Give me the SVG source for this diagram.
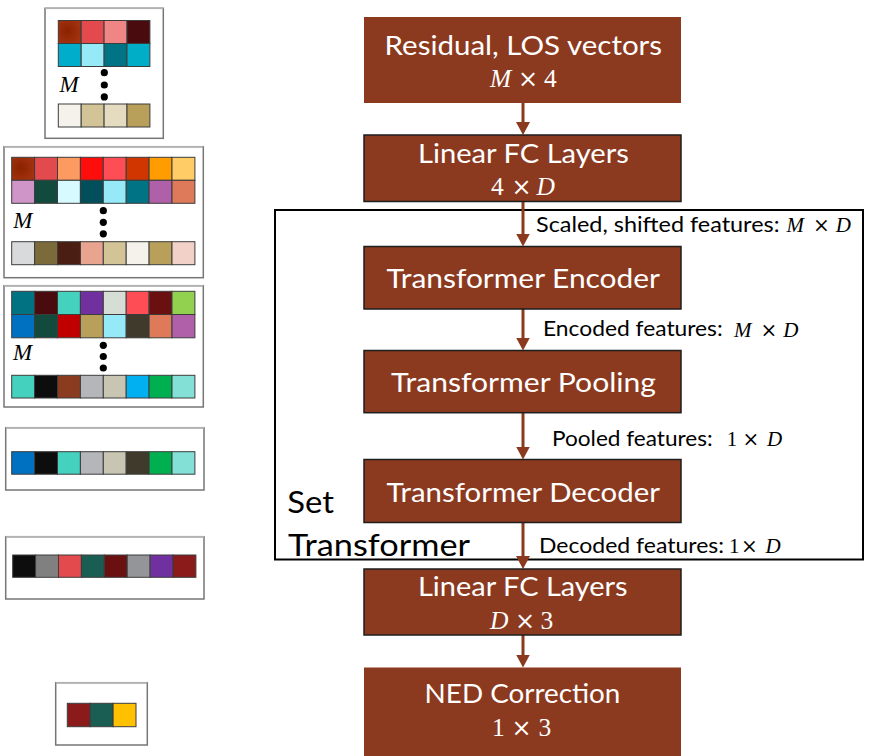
<svg xmlns="http://www.w3.org/2000/svg" width="871" height="756" viewBox="0 0 871 756">
<style>
.bx{fill:#8B3A1F}
.bd{stroke:#1e1e1e;stroke-width:1.5}
.t{font-family:Lato,"Liberation Sans",sans-serif;fill:#fff;font-size:26.5px}
.lb{font-family:Lato,"Liberation Sans",sans-serif;fill:#000;font-size:21.5px}
.mw{font-family:"Liberation Serif",serif;fill:#fff;font-size:25.5px}
.mk{font-family:"Liberation Serif",serif;fill:#000;font-size:21px}
.mx{font-family:"DejaVu Serif",serif;text-anchor:middle}
.mw .mx{font-size:24px}
.mk .mx{font-size:20px}
.it{font-style:italic}
.pn{fill:#fff;stroke:#767676;stroke-width:1.5}
.pt{stroke:#b3b3b3;stroke-width:1.5}
.c rect{stroke:#3c3c3c;stroke-width:1}
.cn{stroke:#8B3A1F;stroke-width:3;fill:none}
</style>
<defs>
<marker id="ah" viewBox="0 0 13 14" refX="3" refY="7" markerWidth="13" markerHeight="14" markerUnits="userSpaceOnUse" orient="auto">
<path d="M0,0 L13,7 L0,14 z" fill="#8B3A1F"/>
</marker>
<radialGradient id="rg" cx="0.4" cy="0.45" r="0.6">
<stop offset="0" stop-color="#8a2200"/>
<stop offset="1" stop-color="#a3320f"/>
</radialGradient>
</defs>
<rect width="871" height="756" fill="#fff"/>

<!-- left panels -->
<g id="panel1">
<rect class="pn" x="45" y="8.3" width="118.3" height="130"/>
<line class="pt" x1="45" y1="8.3" x2="163.3" y2="8.3"/>
<g class="c">
<rect x="58.3" y="20.5" width="22.9" height="23" fill="url(#rg)"/>
<rect x="81.2" y="20.5" width="22.9" height="23" fill="#E34A4E"/>
<rect x="104.1" y="20.5" width="22.9" height="23" fill="#F08585"/>
<rect x="127" y="20.5" width="22.9" height="23" fill="#4A0B0E"/>
<rect x="58.3" y="43.5" width="22.9" height="23" fill="#00AECB"/>
<rect x="81.2" y="43.5" width="22.9" height="23" fill="#96EAF8"/>
<rect x="104.1" y="43.5" width="22.9" height="23" fill="#007485"/>
<rect x="127" y="43.5" width="22.9" height="23" fill="#00AEC8"/>
<rect x="58.3" y="104" width="22.9" height="23" fill="#F4F2EA"/>
<rect x="81.2" y="104" width="22.9" height="23" fill="#D2C497"/>
<rect x="104.1" y="104" width="22.9" height="23" fill="#E4DBC0"/>
<rect x="127" y="104" width="22.9" height="23" fill="#B8A05A"/>
</g>
<text class="mk it" x="59.5" y="91.5" style="font-size:23px">M</text>
<circle cx="104.3" cy="72.7" r="3.6"/><circle cx="104.3" cy="85" r="3.6"/><circle cx="104.3" cy="96.9" r="3.6"/>
</g>

<g id="panel2">
<rect class="pn" x="4" y="146.7" width="199.3" height="131"/>
<line class="pt" x1="4" y1="146.7" x2="203.3" y2="146.7"/>
<g class="c">
<rect x="11.7" y="157.3" width="22.9" height="23" fill="url(#rg)"/>
<rect x="34.6" y="157.3" width="22.9" height="23" fill="#E34A4E"/>
<rect x="57.5" y="157.3" width="22.9" height="23" fill="#FD9A62"/>
<rect x="80.4" y="157.3" width="22.9" height="23" fill="#FE0D0D"/>
<rect x="103.3" y="157.3" width="22.9" height="23" fill="#FF4D55"/>
<rect x="126.2" y="157.3" width="22.9" height="23" fill="#D13600"/>
<rect x="149.1" y="157.3" width="22.9" height="23" fill="#FF9C00"/>
<rect x="172" y="157.3" width="22.9" height="23" fill="#FFCC66"/>
<rect x="11.7" y="180.3" width="22.9" height="23" fill="#CF94C8"/>
<rect x="34.6" y="180.3" width="22.9" height="23" fill="#134A3E"/>
<rect x="57.5" y="180.3" width="22.9" height="23" fill="#D6FAFF"/>
<rect x="80.4" y="180.3" width="22.9" height="23" fill="#004F5B"/>
<rect x="103.3" y="180.3" width="22.9" height="23" fill="#96EAF8"/>
<rect x="126.2" y="180.3" width="22.9" height="23" fill="#007485"/>
<rect x="149.1" y="180.3" width="22.9" height="23" fill="#B060A8"/>
<rect x="172" y="180.3" width="22.9" height="23" fill="#DE7A5A"/>
<rect x="11.7" y="241.7" width="22.9" height="23" fill="#D9DADC"/>
<rect x="34.6" y="241.7" width="22.9" height="23" fill="#7C6B3A"/>
<rect x="57.5" y="241.7" width="22.9" height="23" fill="#4A1F11"/>
<rect x="80.4" y="241.7" width="22.9" height="23" fill="#E8A48E"/>
<rect x="103.3" y="241.7" width="22.9" height="23" fill="#D2C497"/>
<rect x="126.2" y="241.7" width="22.9" height="23" fill="#F4F2EA"/>
<rect x="149.1" y="241.7" width="22.9" height="23" fill="#B8A05A"/>
<rect x="172" y="241.7" width="22.9" height="23" fill="#F2D2C8"/>
</g>
<text class="mk it" x="13.3" y="228.3" style="font-size:23px">M</text>
<circle cx="103.3" cy="210.7" r="3.6"/><circle cx="103.3" cy="222.3" r="3.6"/><circle cx="103.3" cy="233.8" r="3.6"/>
</g>

<g id="panel3">
<rect class="pn" x="4" y="285.7" width="199.3" height="121.3"/>
<line class="pt" x1="4" y1="285.7" x2="203.3" y2="285.7"/>
<g class="c">
<rect x="11.7" y="291.3" width="22.9" height="23.2" fill="#007282"/>
<rect x="34.6" y="291.3" width="22.9" height="23.2" fill="#4A0B0E"/>
<rect x="57.5" y="291.3" width="22.9" height="23.2" fill="#44D1BE"/>
<rect x="80.4" y="291.3" width="22.9" height="23.2" fill="#7030A0"/>
<rect x="103.3" y="291.3" width="22.9" height="23.2" fill="#D6DDD4"/>
<rect x="126.2" y="291.3" width="22.9" height="23.2" fill="#FF4D55"/>
<rect x="149.1" y="291.3" width="22.9" height="23.2" fill="#6A1010"/>
<rect x="172" y="291.3" width="22.9" height="23.2" fill="#92D050"/>
<rect x="11.7" y="314.5" width="22.9" height="23.3" fill="#0070C0"/>
<rect x="34.6" y="314.5" width="22.9" height="23.3" fill="#134A3E"/>
<rect x="57.5" y="314.5" width="22.9" height="23.3" fill="#C00000"/>
<rect x="80.4" y="314.5" width="22.9" height="23.3" fill="#B8A05A"/>
<rect x="103.3" y="314.5" width="22.9" height="23.3" fill="#96EAF8"/>
<rect x="126.2" y="314.5" width="22.9" height="23.3" fill="#3F3A2B"/>
<rect x="149.1" y="314.5" width="22.9" height="23.3" fill="#DE7A5A"/>
<rect x="172" y="314.5" width="22.9" height="23.3" fill="#B060A8"/>
<rect x="11.7" y="375.3" width="22.9" height="22.7" fill="#44D1BE"/>
<rect x="34.6" y="375.3" width="22.9" height="22.7" fill="#0D0D0D"/>
<rect x="57.5" y="375.3" width="22.9" height="22.7" fill="#8B3B20"/>
<rect x="80.4" y="375.3" width="22.9" height="22.7" fill="#B5B6BA"/>
<rect x="103.3" y="375.3" width="22.9" height="22.7" fill="#C8C6B3"/>
<rect x="126.2" y="375.3" width="22.9" height="22.7" fill="#00B0F0"/>
<rect x="149.1" y="375.3" width="22.9" height="22.7" fill="#00B050"/>
<rect x="172" y="375.3" width="22.9" height="22.7" fill="#82E0D6"/>
</g>
<text class="mk it" x="13" y="360.3" style="font-size:23px">M</text>
<circle cx="103.3" cy="345.3" r="3.6"/><circle cx="103.3" cy="356.5" r="3.6"/><circle cx="103.3" cy="368" r="3.6"/>
</g>

<g id="panel4">
<rect class="pn" x="5.7" y="427.7" width="198.3" height="62.3"/>
<line class="pt" x1="5.7" y1="427.7" x2="204" y2="427.7"/>
<g class="c">
<rect x="11.7" y="451.7" width="22.9" height="22.5" fill="#0070C0"/>
<rect x="34.6" y="451.7" width="22.9" height="22.5" fill="#0D0D0D"/>
<rect x="57.5" y="451.7" width="22.9" height="22.5" fill="#44D1BE"/>
<rect x="80.4" y="451.7" width="22.9" height="22.5" fill="#B5B6BA"/>
<rect x="103.3" y="451.7" width="22.9" height="22.5" fill="#C8C6B3"/>
<rect x="126.2" y="451.7" width="22.9" height="22.5" fill="#3F3A2B"/>
<rect x="149.1" y="451.7" width="22.9" height="22.5" fill="#00B050"/>
<rect x="172" y="451.7" width="22.9" height="22.5" fill="#82E0D6"/>
</g>
</g>

<g id="panel5">
<rect class="pn" x="5.7" y="536.7" width="198.3" height="62.3"/>
<line class="pt" x1="5.7" y1="536.7" x2="204" y2="536.7"/>
<g class="c">
<rect x="12.7" y="555" width="22.9" height="22.3" fill="#0D0D0D"/>
<rect x="35.6" y="555" width="22.9" height="22.3" fill="#808080"/>
<rect x="58.5" y="555" width="22.9" height="22.3" fill="#E34A4E"/>
<rect x="81.4" y="555" width="22.9" height="22.3" fill="#1A5E53"/>
<rect x="104.3" y="555" width="22.9" height="22.3" fill="#6A1010"/>
<rect x="127.2" y="555" width="22.9" height="22.3" fill="#939598"/>
<rect x="150.1" y="555" width="22.9" height="22.3" fill="#7030A0"/>
<rect x="173" y="555" width="22.9" height="22.3" fill="#8B1A1A"/>
</g>
</g>

<g id="panel6">
<rect class="pn" x="55.7" y="682.7" width="91.6" height="62.3"/>
<line class="pt" x1="55.7" y1="682.7" x2="147.3" y2="682.7"/>
<g class="c">
<rect x="67.3" y="703.3" width="22.9" height="23.4" fill="#8B1A1A"/>
<rect x="90.2" y="703.3" width="22.9" height="23.4" fill="#1A5E53"/>
<rect x="113.1" y="703.3" width="22.9" height="23.4" fill="#FFC000"/>
</g>
</g>

<!-- Set Transformer frame -->
<g id="set-transformer">
<rect x="275" y="210" width="588" height="349.5" fill="none" stroke="#000" stroke-width="2"/>
<text class="lb" x="287.3" y="513.3" style="font-size:31.5px" textLength="46.7" lengthAdjust="spacingAndGlyphs">Set</text>
<text class="lb" x="288" y="556" style="font-size:31.5px" textLength="182" lengthAdjust="spacingAndGlyphs">Transformer</text>
</g>

<!-- connectors -->
<g id="connectors">
<line class="cn" x1="523" y1="103" x2="523" y2="125" marker-end="url(#ah)"/>
<line class="cn" x1="523" y1="201.5" x2="523" y2="236.5" marker-end="url(#ah)"/>
<line class="cn" x1="523" y1="309" x2="523" y2="340.5" marker-end="url(#ah)"/>
<line class="cn" x1="523" y1="412.7" x2="523" y2="449.5" marker-end="url(#ah)"/>
<line class="cn" x1="523" y1="522.5" x2="523" y2="559" marker-end="url(#ah)"/>
<line class="cn" x1="523" y1="635" x2="523" y2="657.5" marker-end="url(#ah)"/>
<text class="lb" x="536" y="232" textLength="243.5" lengthAdjust="spacingAndGlyphs">Scaled, shifted features:</text>
<text class="mk"><tspan class="it" x="786.5" y="232">M</tspan><tspan class="mx" x="821.3" y="232">×</tspan><tspan class="it" x="835.8" y="232">D</tspan></text>
<text class="lb" x="543" y="336" textLength="179.7" lengthAdjust="spacingAndGlyphs">Encoded features:</text>
<text class="mk"><tspan class="it" x="734" y="336.5">M</tspan><tspan class="mx" x="768.8" y="336.5">×</tspan><tspan class="it" x="783.3" y="336.5">D</tspan></text>
<text class="lb" x="552" y="445.7" textLength="160.7" lengthAdjust="spacingAndGlyphs">Pooled features:</text>
<text class="mk"><tspan x="726.7" y="445.7">1</tspan><tspan class="mx" x="751" y="445.7">×</tspan><tspan class="it" x="767" y="445.7">D</tspan></text>
<text class="lb" x="539" y="552.7" textLength="185" lengthAdjust="spacingAndGlyphs">Decoded features:</text>
<text class="mk"><tspan x="729" y="552.7">1</tspan><tspan class="mx" x="749.5" y="552.7">×</tspan><tspan class="it" x="765.5" y="552.7">D</tspan></text>
</g>

<!-- nodes -->
<g id="node-input">
<rect class="bx" x="364" y="17" width="317" height="86"/>
<text class="t" x="523.3" y="55" text-anchor="middle" textLength="277.5" lengthAdjust="spacingAndGlyphs">Residual, LOS vectors</text>
<text class="mw"><tspan class="it" x="490" y="87.3">M</tspan><tspan class="mx" x="528" y="87.3">×</tspan><tspan x="544" y="87.3">4</tspan></text>
</g>
<g id="node-fc1">
<rect class="bx bd" x="364" y="135" width="317" height="66.5"/>
<text class="t" x="523.4" y="162.7" text-anchor="middle" textLength="210.8" lengthAdjust="spacingAndGlyphs">Linear FC Layers</text>
<text class="mw"><tspan x="491" y="195">4</tspan><tspan class="mx" x="521.5" y="195">×</tspan><tspan class="it" x="536.5" y="195">D</tspan></text>
</g>
<g id="node-encoder">
<rect class="bx bd" x="364" y="246.5" width="317" height="62.5"/>
<text class="t" x="523.2" y="288.3" text-anchor="middle" textLength="273.6" lengthAdjust="spacingAndGlyphs">Transformer Encoder</text>
</g>
<g id="node-pooling">
<rect class="bx bd" x="364" y="350.5" width="317" height="62.2"/>
<text class="t" x="523.5" y="391.7" text-anchor="middle" textLength="265" lengthAdjust="spacingAndGlyphs">Transformer Pooling</text>
</g>
<g id="node-decoder">
<rect class="bx bd" x="364" y="459.5" width="317" height="63"/>
<text class="t" x="523.2" y="501.7" text-anchor="middle" textLength="273.5" lengthAdjust="spacingAndGlyphs">Transformer Decoder</text>
</g>
<g id="node-fc2">
<rect class="bx bd" x="364" y="569" width="317" height="66"/>
<text class="t" x="522.8" y="596" text-anchor="middle" textLength="209.6" lengthAdjust="spacingAndGlyphs">Linear FC Layers</text>
<text class="mw"><tspan class="it" x="490" y="629.3">D</tspan><tspan class="mx" x="525" y="629.3">×</tspan><tspan x="540.5" y="629.3">3</tspan></text>
</g>
<g id="node-output">
<rect class="bx" x="364" y="667.5" width="317" height="90"/>
<text class="t" x="522.5" y="703.3" text-anchor="middle" textLength="195.8" lengthAdjust="spacingAndGlyphs">NED Correction</text>
<text class="mw"><tspan x="492" y="736">1</tspan><tspan class="mx" x="521.5" y="736">×</tspan><tspan x="538.5" y="736">3</tspan></text>
</g>
</svg>
